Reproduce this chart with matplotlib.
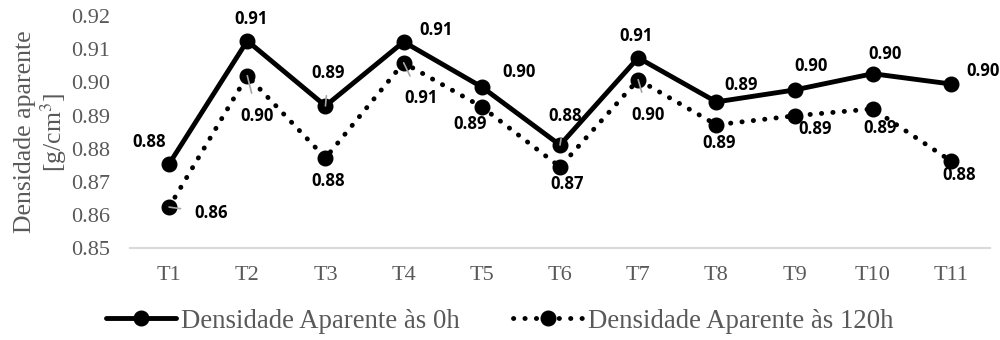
import numpy as np
import matplotlib.pyplot as plt

# Dados
tratamentos = ['T1', 'T2', 'T3', 'T4', 'T5', 'T6', 'T7', 'T8', 'T9', 'T10', 'T11']
dens_0h = [0.8754, 0.9125, 0.8929, 0.9122, 0.8986, 0.8811, 0.9074, 0.8941, 0.8977, 0.9026, 0.8995]
dens_120h = [0.8624, 0.9020, 0.8772, 0.9059, 0.8926, 0.8745, 0.9008, 0.8872, 0.8899, 0.8920, 0.8763]

# posição dos rótulos (pixels) e se leva linha de chamada
pos_0h = [(-20, 22), (4, 22), (3, 33), (32, 12), (37, 15), (5, 29), (-2, 22),
          (25, 17), (17, 24), (12, 20), (32, 13)]
chamada_0h = [False, False, True, False, False, True, False, False, False, False, False]
pos_120h = [(42, -6), (10, -40), (3, -23), (17, -35), (-12, -17), (7, -17), (10, -35),
            (3, -18), (21, -13), (7, -19), (8, -14)]
chamada_120h = [True, True, False, True, False, False, True, False, False, False, False]

cinza = '#595959'
serif = 'Liberation Serif'

fig = plt.figure(figsize=(10, 3.4), dpi=100)
ax = fig.add_axes([0.13, 0.27, 0.86, 0.683])

x = np.arange(len(tratamentos))
ax.plot(x, dens_0h, color='black', linewidth=3.5, marker='o', markersize=10.5,
        label='Densidade Aparente às 0h', solid_capstyle='round')
ax.plot(x, dens_120h, color='black', linewidth=3.5, marker='o', markersize=10.5,
        linestyle=(0, (0.05, 2.3)), dash_capstyle='round',
        label='Densidade Aparente às 120h')


def rotular(valores, posicoes, chamadas):
    for i, v in enumerate(valores):
        dx, dy = posicoes[i]
        props = None
        if chamadas[i]:
            props = dict(arrowstyle='-', color='#a6a6a6', lw=1.2, shrinkA=8, shrinkB=0)
        ax.annotate(f'{v:.2f}', (x[i], v), xytext=(dx, dy), textcoords='offset pixels',
                    ha='center', va='center', fontsize=12, fontweight='bold',
                    family='Open Sans', color='black', arrowprops=props)


rotular(dens_0h, pos_0h, chamada_0h)
rotular(dens_120h, pos_120h, chamada_120h)

ax.set_xlim(-0.5, len(tratamentos) - 0.5)
ax.set_ylim(0.85, 0.92)
ax.set_yticks(np.arange(0.85, 0.9201, 0.01))
ax.yaxis.set_major_formatter(plt.FormatStrFormatter('%.2f'))
ax.set_xticks(x)
ax.set_xticklabels(tratamentos)
for lab in ax.get_xticklabels() + ax.get_yticklabels():
    lab.set_family(serif)
    lab.set_fontsize(16)
    lab.set_color(cinza)
ax.tick_params(length=0)
ax.tick_params(axis='x', pad=13)
ax.tick_params(axis='y', pad=14)

for s in ['top', 'right', 'left']:
    ax.spines[s].set_visible(False)
ax.spines['bottom'].set_color('#d9d9d9')
ax.spines['bottom'].set_linewidth(1.5)

ax.set_ylabel('Densidade aparente\n[g/cm$^3$]', family=serif, fontsize=18.5,
              color=cinza, linespacing=1.1, labelpad=2)
ax.yaxis.label.set_math_fontfamily('stix')

fig.legend(loc='center', bbox_to_anchor=(0.5, 0.055), ncol=2, frameon=False,
           prop={'family': serif, 'size': 19.3}, labelcolor=cinza,
           handlelength=2.6, handletextpad=0.2, columnspacing=2.0)

fig.savefig('out.png', dpi=100)
